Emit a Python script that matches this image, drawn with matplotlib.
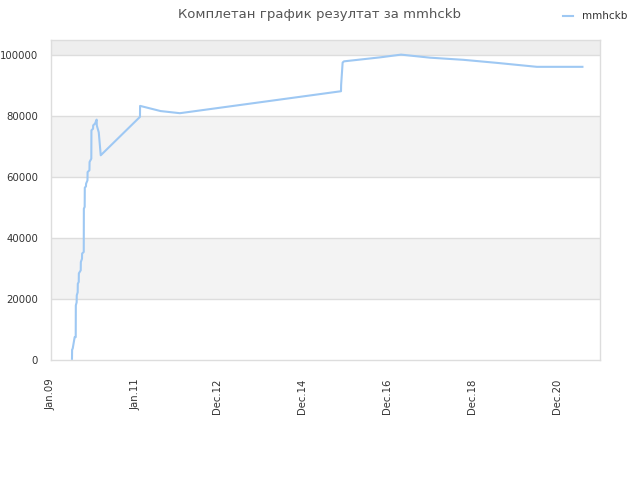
import matplotlib
matplotlib.use("Agg")
import matplotlib.pyplot as plt
from datetime import datetime

# valores
DATES = [
    "2009-07-03", "2009-07-04", "2009-07-09", "2009-07-26", "2009-08-04",
    "2009-08-05", "2009-08-12", "2009-08-13", "2009-08-21", "2009-08-22",
    "2009-08-30", "2009-08-31", "2009-09-16", "2009-09-17", "2009-09-27",
    "2009-09-28", "2009-10-12", "2009-10-13", "2009-10-20", "2009-10-21",
    "2009-10-31", "2009-11-01", "2009-11-13", "2009-11-14", "2009-11-30",
    "2009-12-01", "2009-12-16", "2009-12-17", "2009-12-31", "2010-01-01",
    "2010-01-17", "2010-01-31", "2010-02-01", "2010-02-18", "2010-03-07",
    "2011-02-07", "2011-02-08", "2011-08-03", "2012-01-16", "2015-10-31",
    "2015-11-01", "2015-11-14", "2015-11-26", "2016-05-10", "2016-09-30",
    "2017-03-30", "2017-12-04", "2018-09-16", "2019-06-30", "2020-06-08",
    "2021-07-05",
]
VALUES = [
    500, 3500, 3800, 7600, 7600,
    18000, 19000, 21300, 22300, 25100,
    25700, 28500, 29500, 32200, 33300,
    35000, 35500, 49700, 50300, 56600,
    57000, 57900, 59000, 61700, 62300,
    65000, 66100, 75400, 75900, 77000,
    77600, 78900, 77000, 74700, 67200,
    79800, 83400, 81700, 81000, 88200,
    90200, 97600, 98000, 98700, 99300,
    100200, 99200, 98500, 97500, 96200,
    96200,
]
SERIES_NAME = "mmhckb"
TITLE = "Комплетан график резултат за mmhckb"

TICK_DATES = ["2009-01-01", "2011-01-01", "2012-12-01", "2014-12-01",
              "2016-12-01", "2018-12-01", "2020-12-01"]
TICK_LABELS = ["Jan.09", "Jan.11", "Dec.12", "Dec.14", "Dec.16", "Dec.18", "Dec.20"]
Y_TICKS = [0, 20000, 40000, 60000, 80000, 100000]

x = [datetime.strptime(d, "%Y-%m-%d") for d in DATES]
ticks = [datetime.strptime(d, "%Y-%m-%d") for d in TICK_DATES]

fig = plt.figure(figsize=(6.4, 4.8), dpi=100)
ax = fig.add_axes([0.0792, 0.2494, 0.8583, 0.6673])

y_top = 105000
# faixas alternadas de fundo
for i, lo in enumerate(Y_TICKS):
    hi = Y_TICKS[i + 1] if i + 1 < len(Y_TICKS) else y_top
    if lo == 100000:
        ax.axhspan(lo, hi, color="#eeeeee", zorder=0, lw=0)
    elif i % 2 == 1:
        ax.axhspan(lo, hi, color="#f3f3f3", zorder=0, lw=0)
for yv in Y_TICKS[1:]:
    ax.axhline(yv, color="#dddddd", lw=1, zorder=1)

ax.plot(x, VALUES, color="#9ec8f3", lw=1.5, zorder=3, label=SERIES_NAME)

ax.set_xlim(datetime(2009, 1, 1), datetime(2021, 12, 3))
ax.set_ylim(0, y_top)
ax.set_yticks(Y_TICKS)
ax.set_yticklabels([str(v) for v in Y_TICKS])
ax.set_xticks(ticks)
ax.set_xticklabels(TICK_LABELS, rotation=90)
ax.tick_params(axis="both", length=0, labelsize=7.3, labelcolor="#333333")
ax.tick_params(axis="x", pad=13)
ax.tick_params(axis="y", pad=9)
for s in ax.spines.values():
    s.set_color("#dddddd")
    s.set_linewidth(1)

fig.text(0.5, 0.969, TITLE, ha="center", va="center", fontsize=9.5, color="#555555")
ax.legend(loc="center left", bbox_to_anchor=(0.865, 0.966), bbox_transform=fig.transFigure,
          frameon=False, fontsize=7.5, handlelength=1.0, handletextpad=0.8,
          labelcolor="#333333")

fig.savefig("out.png", dpi=100)
